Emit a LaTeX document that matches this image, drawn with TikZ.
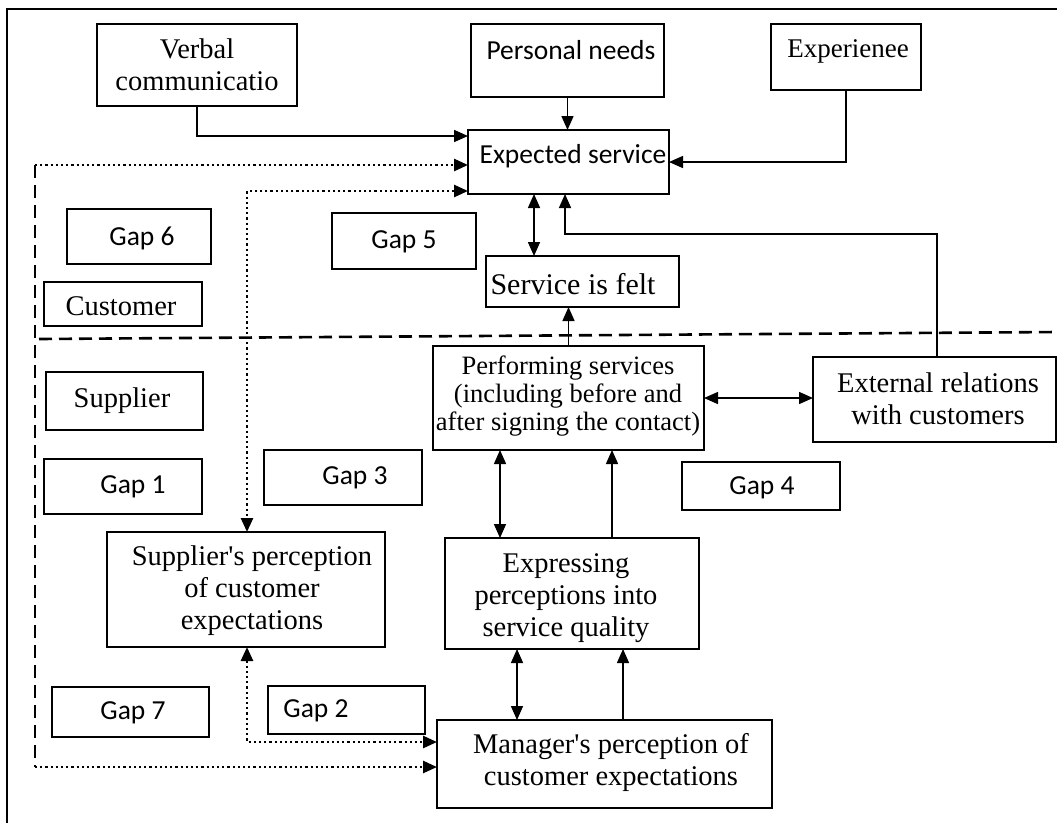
\documentclass[tikz,border=0pt]{standalone}
\usepackage{fontspec}
\setmainfont{Liberation Serif}
\newfontfamily\calfont{Carlito}
\usetikzlibrary{arrows.meta,fit}
\begin{document}
\begin{tikzpicture}[x=1pt,y=-1pt,
  box/.style={draw, line width=1.4pt, inner sep=0pt, outer sep=0pt},
  ser/.style={font=\fontsize{28.5}{32}\selectfont, align=center, inner sep=0pt},
  cal/.style={font=\calfont\fontsize{27.5}{32}\selectfont, inner sep=0pt},
  con/.style={line width=1.5pt},
  tip/.style={-{Triangle[length=14pt,width=12pt]}},
  dtip/.style={{Triangle[length=14pt,width=12pt]}-{Triangle[length=14pt,width=12pt]}},
  dotline/.style={line width=2.6pt, dash pattern=on 2.2pt off 3pt},
  dashline/.style={line width=2.6pt, dash pattern=on 13pt off 7pt}]
\useasboundingbox (0,0) rectangle (1057,823);
\fill[white] (0,0) rectangle (1057,823);
% frame
\coordinate (fbl) at (7,823);
\coordinate (ftl) at (7,9);
\coordinate (ftr) at (1057,9);
\draw[line width=1.4pt] (fbl) -- (ftl) -- (ftr);

% boxes
\node[box, fit={(97,24) (297,106)}] (verbal) {};
\node[box, fit={(471,24) (664,97)}] (pn) {};
\node[box, fit={(771,24) (921,90)}] (exp) {};
\node[box, fit={(468,130) (669,194)}] (es) {};
\node[box, fit={(67,209) (211,264)}] (g6) {};
\node[box, fit={(332,213) (476,269)}] (g5) {};
\node[box, fit={(44,282) (202,326)}] (cust) {};
\node[box, fit={(486,256) (679,307)}] (sf) {};
\node[box, fit={(46,372) (203,430)}] (sup) {};
\node[box, fit={(433,346) (704,450)}] (perf) {};
\node[box, fit={(813,357) (1056,442)}] (ext) {};
\node[box, fit={(44,459) (202,514)}] (g1) {};
\node[box, fit={(264,450) (422,505)}] (g3) {};
\node[box, fit={(682,462) (840,510)}] (g4) {};
\node[box, fit={(107,532) (385,647)}] (spc) {};
\node[box, fit={(445,538) (699,649)}] (expr) {};
\node[box, fit={(52,687) (209,737)}] (g7) {};
\node[box, fit={(268,686) (425,734)}] (g2) {};
\node[box, fit={(437,720) (772,808)}] (mgr) {};

% texts
\node[ser] (tverbal) at (197,65) {Verbal\\communicatio};
\node[cal] (tpn) at (571,50) {Personal needs};
\node[ser, font=\fontsize{27}{32}\selectfont] (texp) at (848,51) {Experienee};
\node[cal] (tes) at (573,156) {Expected service};
\node[cal] (tg6) at (142,238) {Gap 6};
\node[cal] (tg5) at (404,242) {Gap 5};
\node[ser] (tcust) at (121,306) {Customer};
\node[ser, font=\fontsize{30}{34}\selectfont] (tsf) at (573,284) {Service is felt};
\node[ser] (tsup) at (122,401) {Supplier};
\node[ser, font=\fontsize{26.5}{28}\selectfont] (tperf) at (568,396) {Performing services\\(including before and\\after signing the contact)};
\node[ser] (text) at (938,399) {External relations\\with customers};
\node[cal] (tg1) at (133,487) {Gap 1};
\node[cal] (tg3) at (355,478) {Gap 3};
\node[cal] (tg4) at (762,488) {Gap 4};
\node[ser] (tspc) at (252,591) {Supplier\textquotesingle s perception\\of customer\\expectations};
\node[ser] (texpr) at (566,598) {Expressing\\perceptions into\\service quality};
\node[cal] (tg7) at (133,713) {Gap 7};
\node[cal] (tg2) at (316,711) {Gap 2};
\node[ser] (tmgr) at (611,762) {Manager\textquotesingle s perception of\\customer expectations};

% connectors
\coordinate (v1) at (197,136);
\draw[con,tip] (verbal.south) -- (v1) -- (v1 -| es.west);

\coordinate (dl) at (35,165);
\coordinate (dlb) at (35,767);
\draw[dotline,tip] (dl) -- (dl -| es.west);

\coordinate (c3) at (247,191);
\draw[dotline,dtip] (c3 -| es.west) -- (c3) -- (c3 |- spc.north);

\draw[con,tip] (pn.south) -- (pn.south |- es.north);
\draw[con,tip] (exp.south) |- (es.east);

\coordinate (c6) at (534,0);
\draw[con,dtip] (c6 |- es.south) -- (c6 |- sf.north);

\coordinate (c7) at (937,234);
\coordinate (c7b) at (565,234);
\draw[con,tip] (c7 |- ext.north) -- (c7) -- (c7b) -- (c7b |- es.south);

\draw[con,tip] (perf.north) -- (perf.north |- sf.south);
\draw[con,dtip] (perf.east) -- (perf.east -| ext.west);

\coordinate (c10) at (500,0);
\coordinate (c11) at (612,0);
\coordinate (c12) at (517,0);
\coordinate (c13) at (623,0);
\draw[con,dtip] (c10 |- perf.south) -- (c10 |- expr.north);
\draw[con,tip] (c11 |- expr.north) -- (c11 |- perf.south);
\draw[con,dtip] (c12 |- expr.south) -- (c12 |- mgr.north);
\draw[con,tip] (c13 |- mgr.north) -- (c13 |- expr.south);

\coordinate (c14) at (247,742);
\draw[dotline,dtip] (c14 |- spc.south) -- (c14) -- (c14 -| mgr.west);

\coordinate (hl) at (39,339);
\coordinate (hr) at (1057,332);
\draw[dashline] (dl) -- (dlb);
\draw[dashline] (hl) -- (hr);
\draw[dotline,tip] (dlb) -- (dlb -| mgr.west);
\end{tikzpicture}
\end{document}
